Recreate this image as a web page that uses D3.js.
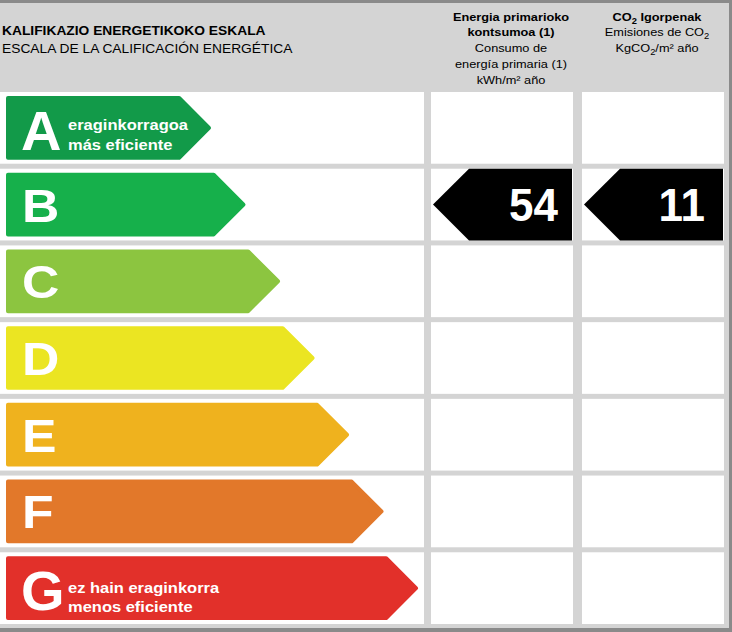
<!DOCTYPE html>
<html>
<head>
<meta charset="utf-8">
<script src="https://cdn.jsdelivr.net/npm/d3@7"></script>
<style>
  html, body { margin: 0; padding: 0; background: #fff; }
  svg { display: block; }
  text { font-family: "Liberation Sans", Arial, sans-serif; }
</style>
</head>
<body>
<svg id="chart" width="732" height="632"></svg>
<script>
// ---- data ----
const ratings = ["A", "B", "C", "D", "E", "F", "G"];
const ratingColors = ["#129a49", "#16b04b", "#8cc540", "#ebe522", "#efb21e", "#e2782a", "#e2302a"];
const topLabel = ["eraginkorragoa", "más eficiente"];
const bottomLabel = ["ez hain eraginkorra", "menos eficiente"];
const titleLines = ["KALIFIKAZIO ENERGETIKOKO ESKALA", "ESCALA DE LA CALIFICACIÓN ENERGÉTICA"];
const energyHeader = ["Energia primarioko", "kontsumoa (1)", "Consumo de", "energía primaria (1)", "kWh/m² año"];
const energyRating = "B";
const energyValue = 54;
const co2Rating = "B";
const co2Value = 11;

// ---- layout ----
const W = 732, H = 632;
const svg = d3.select("#chart");

svg.append("rect").attr("width", W).attr("height", H).attr("fill", "#d4d4d4");
// borders
svg.append("rect").attr("x", 0).attr("y", 0).attr("width", W).attr("height", 3).attr("fill", "#8a8a8a");
svg.append("rect").attr("x", 729).attr("y", 0).attr("width", 3).attr("height", H).attr("fill", "#8a8a8a");
svg.append("rect").attr("x", 0).attr("y", 628).attr("width", W).attr("height", 4).attr("fill", "#8a8a8a");

const y = d3.scaleBand().domain(ratings).range([92, 624]).paddingInner(0.065).paddingOuter(0);
const cols = [
  { x0: 0, x1: 424 },
  { x0: 431, x1: 573 },
  { x0: 582, x1: 724 }
];
const tipX = d3.scaleLinear().domain([0, ratings.length - 1]).range([211, 418]);
const color = d3.scaleOrdinal().domain(ratings).range(ratingColors);

function label(x, yy, txt, size, bold, sx, sy, anchor) {
  return svg.append("text")
    .attr("transform", `translate(${x},${yy}) scale(${sx},${sy})`)
    .attr("text-anchor", anchor || "start")
    .attr("font-size", size).attr("font-weight", bold ? "bold" : "normal")
    .attr("fill", "#000").text(txt);
}

// white cells
ratings.forEach(r => {
  cols.forEach(c => {
    svg.append("rect")
      .attr("x", c.x0).attr("y", y(r))
      .attr("width", c.x1 - c.x0).attr("height", y.bandwidth())
      .attr("fill", "#ffffff");
  });
});

// rating arrows
const inset = 4, sw = 4;
ratings.forEach((r, i) => {
  const top = y(r) + inset + sw / 2;
  const bot = y(r) + y.bandwidth() - inset - sw / 2;
  const mid = (top + bot) / 2;
  const tip = tipX(i) - sw / 2;
  const x0 = 6 + sw / 2;
  const depth = (bot - top) / 2;
  const p = d3.path();
  p.moveTo(x0, top);
  p.lineTo(tip - depth, top);
  p.lineTo(tip, mid);
  p.lineTo(tip - depth, bot);
  p.lineTo(x0, bot);
  p.closePath();
  svg.append("path").attr("d", p.toString())
    .attr("fill", color(r)).attr("stroke", color(r))
    .attr("stroke-width", sw).attr("stroke-linejoin", "round");

  const c = y(r) + y.bandwidth() / 2;
  const big = (r === "A" || r === "G");
  if (big) {
    svg.append("text")
      .attr("x", 21).attr("y", c + 22)
      .attr("font-size", 56).attr("font-weight", "bold")
      .attr("fill", "#fff").text(r);
    const lines = r === "A" ? topLabel : bottomLabel;
    lines.forEach((t, k) => {
      label(68, c + (r === "A" ? 2.5 : 5) + k * (r === "A" ? 19.5 : 18.5), t, 14.6, true, 1.13, 1)
        .attr("fill", "#fff");
    });
  } else {
    label(22, c + 17, r, 47, true, 1.1, 1).attr("fill", "#fff");
  }
});

// value indicator arrows
function indicator(col, rating, value, textRight) {
  const top = y(rating), bot = y(rating) + y.bandwidth();
  const mid = (top + bot) / 2;
  const left = col.x0 + 2, right = col.x1 - 1;
  const depth = 36;
  const p = d3.path();
  p.moveTo(left, mid);
  p.lineTo(left + depth, top);
  p.lineTo(right, top);
  p.lineTo(right, bot);
  p.lineTo(left + depth, bot);
  p.closePath();
  svg.append("path").attr("d", p.toString()).attr("fill", "#000");
  label(textRight, mid + 16, value, 44, true, 1, 1.07, "end").attr("fill", "#fff");
}
indicator(cols[1], energyRating, energyValue, 558);
indicator(cols[2], co2Rating, co2Value, 705);

// titles
titleLines.forEach((t, k) => {
  label(2, 35 + k * 17.5, t, 12, k === 0, 1.15, 1);
});

energyHeader.forEach((t, k) => {
  label(511, 20.5 + k * 15.8, t, 11.6, k < 2, 1.1, 1, "middle");
});

// CO2 header with subscripts
const co2Lines = [
  { parts: [["CO", false], ["2", true], [" Igorpenak", false]], bold: true },
  { parts: [["Emisiones de CO", false], ["2", true]], bold: false },
  { parts: [["KgCO", false], ["2", true], ["/m² año", false]], bold: false }
];
co2Lines.forEach((ln, k) => {
  const t = label(657, 20.5 + k * 15.8, null, 11.6, ln.bold, 1.1, 1, "middle");
  ln.parts.forEach(([s, sub], j) => {
    const ts = t.append("tspan").text(s);
    if (sub) ts.attr("font-size", 8.5).attr("dy", 3);
    else if (j > 0) ts.attr("dy", -3);
  });
});
</script>
</body>
</html>
